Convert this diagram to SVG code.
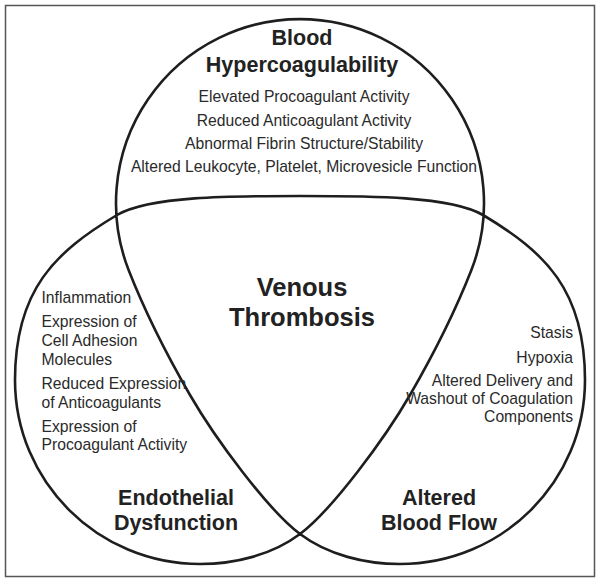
<svg xmlns="http://www.w3.org/2000/svg" width="601" height="583" viewBox="0 0 601 583">
<style>
.frame{fill:#fff;stroke:#555;stroke-width:1.5}
.outline{fill:none;stroke:#1e1e1e;stroke-width:2.6;stroke-linejoin:round}
.title{font-family:"Liberation Sans",Arial,sans-serif;font-weight:bold;font-size:21.5px;fill:#222;text-anchor:middle}
.center{font-family:"Liberation Sans",Arial,sans-serif;font-weight:bold;font-size:25.5px;fill:#222;text-anchor:middle}
.item{font-family:"Liberation Sans",Arial,sans-serif;font-size:15.7px;fill:#2a2a2a}
.mid{text-anchor:middle}
.end{text-anchor:end}
</style>
<rect x="0" y="0" width="601" height="583" fill="#fff"/>
<rect class="frame" x="5.5" y="5.5" width="589" height="571"/>
<g id="connectors">
<path class="outline" d="M128.6 270 A184 184 0 1 1 471.4 270 C455 311.9 430 360.4 410 395 C385 438.3 332 510 300 534 C272 555 235 564 200 564 C97.8 564 15 481.6 15 380 C15 290 55 252 117 215 C150 196 230 196 300 196 C370 196 450 196 483 215 C545 252 585 290 585 380 C585 481.6 502.2 564 400 564 C365 564 328 555 300 534 C268 510 215 438.3 190 395 C170 360.4 145 311.9 128.6 270 Z"/>
</g>
<g id="blood-hypercoagulability">
<text class="title" x="302" y="45">Blood</text>
<text class="title" x="302" y="72">Hypercoagulability</text>
<text class="item mid" x="304" y="102">Elevated Procoagulant Activity</text>
<text class="item mid" x="304" y="125.5">Reduced Anticoagulant Activity</text>
<text class="item mid" x="304" y="149">Abnormal Fibrin Structure/Stability</text>
<text class="item mid" x="304" y="172">Altered Leukocyte, Platelet, Microvesicle Function</text>
</g>
<g id="venous-thrombosis">
<text class="center" x="302" y="296">Venous</text>
<text class="center" x="302" y="326">Thrombosis</text>
</g>
<g id="endothelial-dysfunction">
<text class="item" x="41.5" y="303">Inflammation</text>
<text class="item" x="41.5" y="327">Expression of</text>
<text class="item" x="41.5" y="346">Cell Adhesion</text>
<text class="item" x="41.5" y="364.5">Molecules</text>
<text class="item" x="41.5" y="389">Reduced Expression</text>
<text class="item" x="41.5" y="408">of Anticoagulants</text>
<text class="item" x="41.5" y="432">Expression of</text>
<text class="item" x="41.5" y="450">Procoagulant Activity</text>
<text class="title" x="176" y="505">Endothelial</text>
<text class="title" x="176" y="530">Dysfunction</text>
</g>
<g id="altered-blood-flow">
<text class="item end" x="573" y="338">Stasis</text>
<text class="item end" x="573" y="363">Hypoxia</text>
<text class="item end" x="573" y="386">Altered Delivery and</text>
<text class="item end" x="573" y="404">Washout of Coagulation</text>
<text class="item end" x="573" y="422">Components</text>
<text class="title" x="439" y="505">Altered</text>
<text class="title" x="439" y="530">Blood Flow</text>
</g>
</svg>
